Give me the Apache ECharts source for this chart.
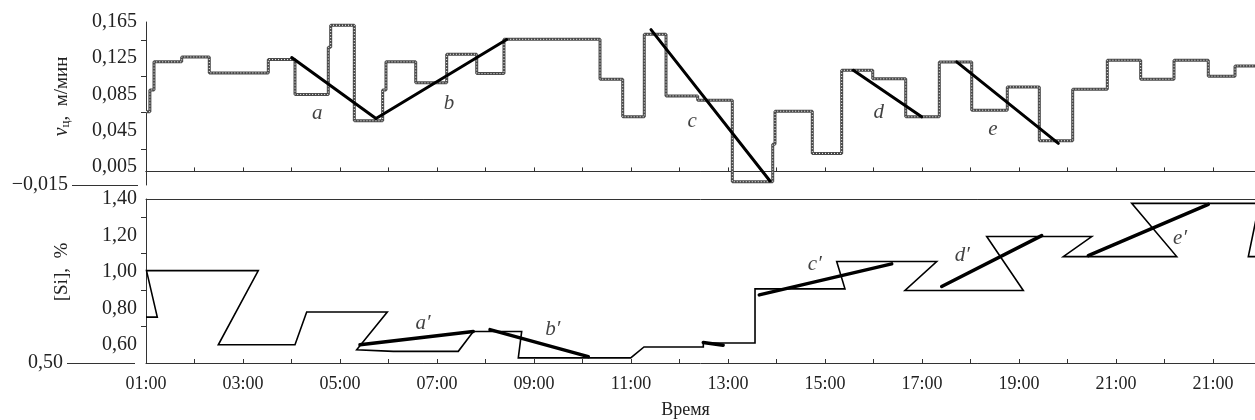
<!DOCTYPE html>
<html>
<head>
<meta charset="utf-8">
<script src="https://cdn.jsdelivr.net/npm/echarts@6/dist/echarts.min.js"></script>
<style>
  html, body { margin: 0; padding: 0; background: #fff; }
  #chart { width: 1255px; height: 420px; }
</style>
</head>
<body>
<div id="chart"></div>
<script>
// Время: часы от 01:00, тик каждый час, подпись через час (последняя подпись повторена как в оригинале)
const timeLabels = ['01:00', '03:00', '05:00', '07:00', '09:00', '11:00', '13:00', '15:00', '17:00', '19:00', '21:00', '21:00'];
const timeMin = 1;
const timeMax = 23.866;

// скорость вытягивания v_ц, м/мин — начало каждой ступени (ч) и её уровень
const vcTime = [1.0, 1.08, 1.165, 1.736, 2.305, 3.522, 4.072, 4.759, 4.808, 5.295, 5.88, 5.948, 6.561, 7.2, 7.819, 8.381,
  10.361, 10.829, 11.274, 11.722, 12.375, 13.089, 13.922, 13.969, 14.738, 15.344, 15.984, 16.664, 17.357, 18.025,
  18.759, 19.419, 20.107, 20.821, 21.509, 22.196, 22.903, 23.454, 23.95];
const vcValue = [0.066, 0.09, 0.121, 0.1264, 0.1088, 0.1235, 0.085, 0.137, 0.1614, 0.0559, 0.09, 0.121, 0.0978, 0.1294, 0.108, 0.1459,
  0.1018, 0.0603, 0.1514, 0.0834, 0.0787, -0.0114, 0.03, 0.0665, 0.0199, 0.1117, 0.1022, 0.0603, 0.1209, 0.0676,
  0.0933, 0.0338, 0.0908, 0.1228, 0.1018, 0.1228, 0.1052, 0.1165, 0.1165];

// тренды на верхнем графике: [t0, v0, t1, v1]
const vcTrendNames = ['a', 'b', 'c', 'd', 'e'];
const vcTrends = [
  [4.004, 0.1257, 5.742, 0.0585],
  [5.742, 0.0585, 8.437, 0.1456],
  [11.412, 0.1566, 13.866, -0.0106],
  [15.584, 0.1117, 16.993, 0.0603],
  [17.715, 0.1209, 19.811, 0.0309]
];
const vcTrendLabelPos = [[4.53, 0.064], [7.25, 0.0745], [12.26, 0.0555], [16.11, 0.0655], [18.46, 0.0465]];

// [Si], % — ломаная (время, значение), порядок точек как на рисунке
const siTime = [1.0, 1.233, 1.01, 3.315, 2.491, 4.072, 4.313, 5.975, 5.344, 6.099, 7.439, 7.749, 8.746, 8.676, 10.994,
  11.268, 12.491, 12.491, 13.557, 13.557, 15.412, 15.241, 17.303, 16.649, 19.089, 18.334, 20.499, 19.913, 22.252,
  21.324, 23.955, 23.728, 24.6];
const siValue = [0.752, 0.752, 1.007, 1.007, 0.6, 0.6, 0.78, 0.78, 0.573, 0.564, 0.564, 0.673, 0.673, 0.528, 0.528,
  0.588, 0.588, 0.61, 0.61, 0.907, 0.907, 1.057, 1.057, 0.898, 0.898, 1.194, 1.194, 1.084, 1.084,
  1.376, 1.376, 1.084, 1.084];

// тренды на нижнем графике
const siTrendNames = ['a\u2032', 'b\u2032', 'c\u2032', 'd\u2032', 'e\u2032'];
const siTrends = [
  [5.412, 0.6, 7.749, 0.673],
  [8.093, 0.683, 10.12, 0.535],
  [12.49, 0.612, 12.9, 0.598],
  [13.645, 0.874, 16.375, 1.044],
  [17.406, 0.92, 19.468, 1.199],
  [20.429, 1.089, 22.903, 1.371]
];
const siTrendLabelPos = [[6.71, 0.716], [9.39, 0.683], [14.79, 1.039], [17.83, 1.088], [22.32, 1.186]];

// оси Y: подписи и промежуточные тики
const vcLabelVals = [0.005, 0.045, 0.085, 0.125, 0.165];
const vcTickVals = [0.025, 0.065, 0.105, 0.145];
const vcMin = -0.015, vcMax = 0.165;
const siLabelVals = [0.6, 0.8, 1.0, 1.2, 1.4];
const siTickVals = [0.7, 0.9, 1.1, 1.3];
const siMin = 0.5, siMax = 1.4;

const SERIF = "'Liberation Serif', 'Times New Roman', serif";
const INK = '#222';
const AXIS = '#333';

const comma = (v, d) => (v < 0 ? '\u2212' : '') + Math.abs(v).toFixed(d).replace('.', ',');

function stepData(t, v) {
  return t.map((x, i) => [x, v[i]]);
}

function timeAxis(grid, withLabels) {
  return {
    type: 'value', gridIndex: grid, min: timeMin, max: timeMax, interval: 1,
    axisLine: { show: true, lineStyle: { color: AXIS, width: 1 } },
    axisTick: { show: true, inside: true, length: 4, lineStyle: { color: AXIS } },
    axisLabel: {
      show: withLabels, color: INK, fontFamily: SERIF, fontSize: 18, margin: 12, showMaxLabel: false,
      formatter: (v) => {
        const k = Math.round(v) - timeMin;
        return Math.abs(v - Math.round(v)) < 1e-6 && k % 2 === 0 ? (timeLabels[k / 2] || '') : '';
      }
    },
    splitLine: { show: false }
  };
}

function frameTop(grid) {
  return {
    type: 'value', gridIndex: grid, position: 'top', min: timeMin, max: timeMax,
    axisLine: { show: true, lineStyle: { color: AXIS, width: 1 } },
    axisTick: { show: false }, axisLabel: { show: false }, splitLine: { show: false }
  };
}

function valueAxis(grid, min, max, labelVals, tickVals, digits, name, padding) {
  return {
    type: 'value', gridIndex: grid, position: 'left', min: min, max: max,
    axisLine: { show: true, lineStyle: { color: AXIS, width: 1 } },
    axisTick: { show: true, customValues: tickVals, length: 5, lineStyle: { color: AXIS } },
    axisLabel: { customValues: labelVals, color: INK, fontFamily: SERIF, fontSize: 20, margin: 9, formatter: (v) => comma(v, digits) },
    splitLine: { show: false },
    name: name, nameLocation: 'middle', nameGap: 74,
    nameTextStyle: {
      color: INK, fontFamily: SERIF, fontSize: 19, padding: padding,
      rich: {
        v: { fontFamily: SERIF, fontStyle: 'italic', fontSize: 20, color: INK },
        sub: { fontFamily: SERIF, fontSize: 13, color: INK, verticalAlign: 'bottom', padding: [6, 0, 0, 0] },
        r: { fontFamily: SERIF, fontSize: 19, color: INK }
      }
    }
  };
}

// отдельная отметка минимума слева: длинная черта к подписи
function minMark(grid, min, max, digits, offset, len) {
  return {
    type: 'value', gridIndex: grid, position: 'left', min: min, max: max, offset: offset,
    axisLine: { show: false },
    axisTick: { show: true, customValues: [min], length: len, lineStyle: { color: AXIS } },
    axisLabel: { customValues: [min], color: INK, fontFamily: SERIF, fontSize: 20, margin: len + 4, formatter: (v) => comma(v, digits) },
    splitLine: { show: false }
  };
}

function trendSeries(list, xi, yi, width) {
  return list.map((t) => ({
    type: 'line', xAxisIndex: xi, yAxisIndex: yi, symbol: 'none', silent: true,
    data: [[t[0], t[1]], [t[2], t[3]]],
    lineStyle: { color: '#000', width: width, cap: 'round' }
  }));
}

function labelSeries(names, pos, xi, yi) {
  return {
    type: 'scatter', xAxisIndex: xi, yAxisIndex: yi, symbolSize: 1, silent: true,
    itemStyle: { color: 'rgba(0,0,0,0)' },
    data: names.map((n, i) => ({ name: n, value: pos[i] })),
    label: { show: true, position: 'inside', formatter: (p) => p.name, color: '#111', fontFamily: SERIF, fontStyle: 'italic', fontSize: 21 }
  };
}

const chart = echarts.init(document.getElementById('chart'), null, { renderer: 'canvas' });

const vcData = stepData(vcTime, vcValue);
const siData = stepData(siTime, siValue);

chart.setOption({
  animation: false,
  backgroundColor: '#fff',
  grid: [
    { left: 146, right: 0, top: 22, height: 163, containLabel: false, outerBoundsMode: 'none' },
    { left: 146, right: 0, top: 199, height: 164, containLabel: false, outerBoundsMode: 'none' }
  ],
  xAxis: [
    timeAxis(0, false),
    frameTop(0),
    Object.assign(timeAxis(1, true), {
      name: 'Время', nameLocation: 'middle', nameGap: 38,
      nameTextStyle: { color: INK, fontFamily: SERIF, fontSize: 18, padding: [0, 30, 0, 0] }
    }),
    frameTop(1)
  ],
  yAxis: [
    valueAxis(0, vcMin, vcMax, vcLabelVals, vcTickVals, 3, '{v|v}{sub|ц}{r|,  м/мин}', [0, 0, 0, 14]),
    minMark(0, vcMin, vcMax, 3, 8, 66),
    valueAxis(1, siMin, siMax, siLabelVals, siTickVals, 2, '[Si],  %', [0, 0, 0, 18]),
    minMark(1, siMin, siMax, 2, 11, 68)
  ],
  series: [
    {
      type: 'line', xAxisIndex: 0, yAxisIndex: 0, step: 'end', symbol: 'none', silent: true,
      data: vcData, lineStyle: { color: '#4a4a4a', width: 3 }
    },
    {
      type: 'line', xAxisIndex: 0, yAxisIndex: 0, step: 'end', symbol: 'none', silent: true,
      data: vcData, lineStyle: { color: '#fff', width: 1, type: [1, 2] }
    },
    ...trendSeries(vcTrends, 0, 0, 3),
    labelSeries(vcTrendNames, vcTrendLabelPos, 0, 0),
    {
      type: 'line', xAxisIndex: 2, yAxisIndex: 2, symbol: 'none', silent: true,
      data: siData, lineStyle: { color: '#000', width: 1.6, join: 'miter' }
    },
    ...trendSeries(siTrends, 2, 2, 3.5),
    labelSeries(siTrendNames, siTrendLabelPos, 2, 2)
  ]
});
</script>
</body>
</html>
